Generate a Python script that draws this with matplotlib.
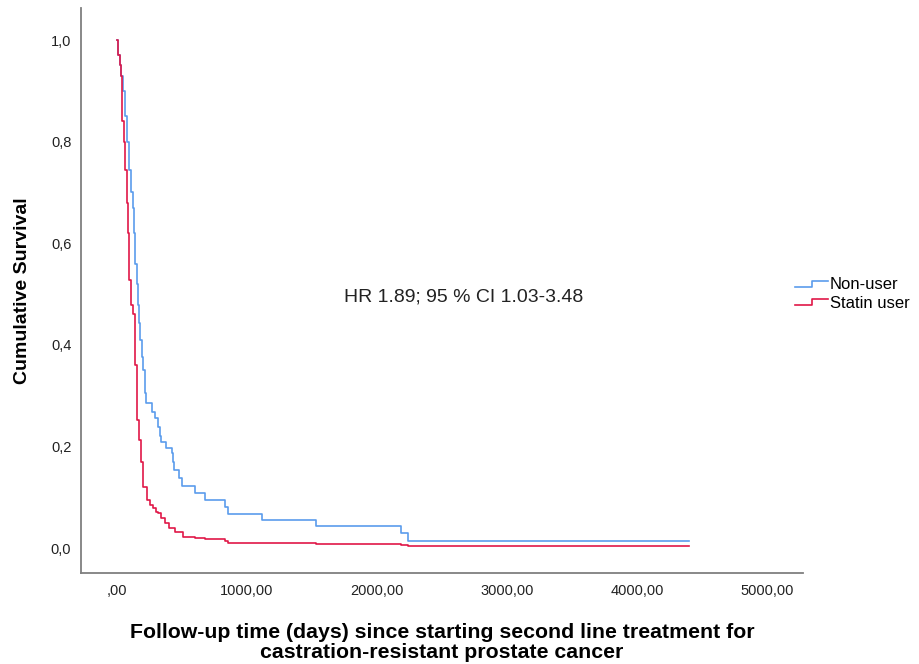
import matplotlib
matplotlib.use("Agg")
import matplotlib.pyplot as plt
from matplotlib.legend_handler import HandlerBase
from matplotlib.lines import Line2D

# Kaplan-Meier steps (days, cumulative survival)
nonuser_days = [0, 10, 20, 28, 46, 60, 75, 90, 105, 121, 130, 140, 150, 159,
                169, 180, 190, 200, 215, 225, 267, 292, 318, 330, 338, 377,
                421, 433, 440, 477, 498, 600, 677, 831, 856, 1113, 1531,
                2185, 2241, 4400]
nonuser_surv = [1.0, 0.97, 0.95, 0.93, 0.90, 0.85, 0.80, 0.744, 0.70, 0.669,
                0.62, 0.56, 0.52, 0.478, 0.443, 0.41, 0.376, 0.35, 0.305,
                0.285, 0.268, 0.256, 0.238, 0.22, 0.209, 0.197, 0.187, 0.170,
                0.154, 0.138, 0.122, 0.108, 0.094, 0.081, 0.068, 0.055, 0.043,
                0.030, 0.014, 0.014]

statin_days = [0, 8, 20, 30, 35, 38, 50, 64, 75, 85, 95, 110, 121, 135, 151,
               169, 185, 203, 228, 250, 275, 300, 316, 340, 369, 400, 446,
               508, 600, 677, 831, 856, 1115, 1531, 2185, 2241, 4400]
statin_surv = [1.0, 0.97, 0.95, 0.93, 0.862, 0.84, 0.80, 0.744, 0.68, 0.62,
               0.528, 0.478, 0.46, 0.36, 0.252, 0.213, 0.17, 0.12, 0.094,
               0.085, 0.078, 0.072, 0.069, 0.06, 0.049, 0.04, 0.031, 0.022,
               0.020, 0.017, 0.013, 0.011, 0.0095, 0.008, 0.0065, 0.004, 0.004]

group_labels = ["Non-user", "Statin user"]
x_ticks = [0, 1000, 2000, 3000, 4000, 5000]
x_tick_labels = [",00", "1000,00", "2000,00", "3000,00", "4000,00", "5000,00"]
y_ticks = [0.0, 0.2, 0.4, 0.6, 0.8, 1.0]
y_tick_labels = ["0,0", "0,2", "0,4", "0,6", "0,8", "1,0"]
annotation = "HR 1.89; 95 % CI 1.03-3.48"

BLUE = "#5B9CEC"
RED = "#E01848"
SPINE = "#7F7F7F"


class StepHandler(HandlerBase):
    """Legend key drawn as a little step, like SPSS does."""

    def create_artists(self, legend, orig_handle, xdescent, ydescent,
                       width, height, fontsize, trans):
        x0 = -xdescent
        lo = -ydescent + height * 0.2
        hi = -ydescent + height * 0.75
        xs = [x0, x0 + width * 0.5, x0 + width * 0.5, x0 + width]
        ys = [lo, lo, hi, hi]
        line = Line2D(xs, ys, color=orig_handle.get_color(),
                      linewidth=orig_handle.get_linewidth())
        line.set_transform(trans)
        return [line]


plt.rcParams["font.family"] = ["Liberation Sans", "DejaVu Sans"]

fig = plt.figure(figsize=(9.2, 6.64), dpi=100)
ax = fig.add_axes([81 / 920, 1 - 573 / 664, 722 / 920, 565 / 664])

l1, = ax.step(nonuser_days, nonuser_surv, where="post", color=BLUE, lw=1.2,
              label=group_labels[0])
l2, = ax.step(statin_days, statin_surv, where="post", color=RED, lw=1.2,
              label=group_labels[1])

ax.set_xlim(-277, 5277)
ax.set_ylim(-0.049, 1.063)
ax.set_xticks(x_ticks)
ax.set_xticklabels(x_tick_labels)
ax.set_yticks(y_ticks)
ax.set_yticklabels(y_tick_labels)
ax.tick_params(length=0, labelsize=10.5, labelcolor="#222222")
ax.tick_params(axis="y", pad=7)
ax.tick_params(axis="x", pad=8)

for side in ("top", "right"):
    ax.spines[side].set_visible(False)
for side in ("left", "bottom"):
    ax.spines[side].set_color(SPINE)
    ax.spines[side].set_linewidth(1.3)

ax.set_xlabel("Follow-up time (days) since starting second line treatment for\n"
              "castration-resistant prostate cancer",
              fontsize=15.3, fontweight="bold", linespacing=1.05)
ax.xaxis.set_label_coords(0.5, -(623 - 573) / 565)
ax.set_ylabel("Cumulative Survival", fontsize=14, fontweight="bold")
ax.yaxis.set_label_coords(-(81 - 31) / 722, 0.5)

ax.text(2670, 0.494, annotation, ha="center", va="center", fontsize=14,
        color="#222222")

fig.legend(handles=[l1, l2], labels=group_labels, loc="center left",
           bbox_to_anchor=(795 / 920, 1 - 294 / 664), frameon=False,
           fontsize=12, handlelength=2.0, handletextpad=0.1,
           labelspacing=0.2, borderpad=0, borderaxespad=0,
           handler_map={Line2D: StepHandler()})

fig.savefig("out.png", dpi=100)
